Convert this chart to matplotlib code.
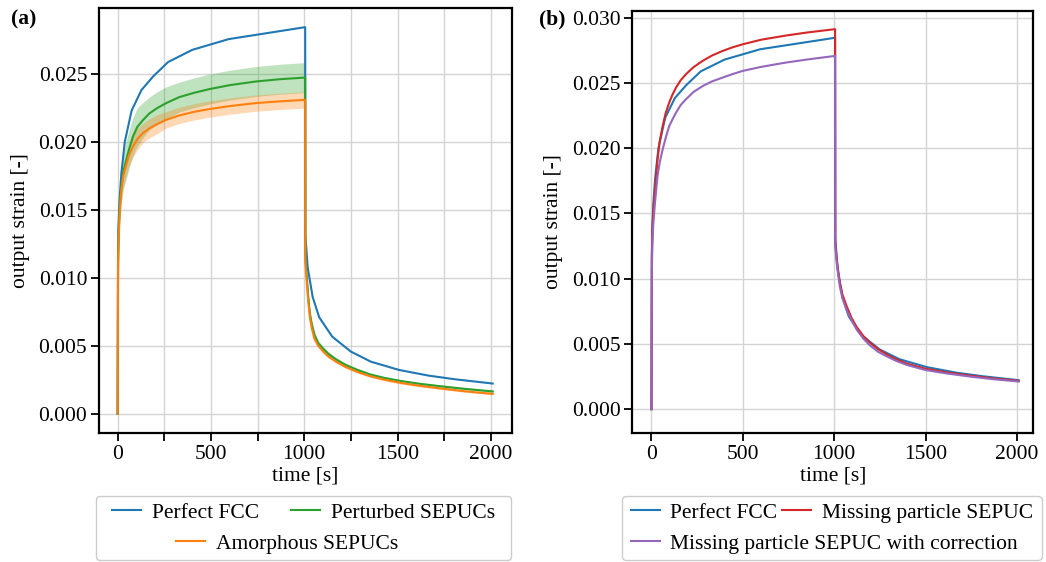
import numpy as np
import matplotlib
matplotlib.use('Agg')
import matplotlib.pyplot as plt
from matplotlib.ticker import MultipleLocator, FuncFormatter
from matplotlib.offsetbox import HPacker, VPacker, DrawingArea

plt.rcParams['font.family'] = ['Liberation Serif', 'DejaVu Serif']
FS = 15.5
plt.rcParams['font.size'] = FS

# ---------------- data ----------------
# Perfect FCC (shared by both panels)
t_fcc = [0, 2, 5, 10, 20, 38, 75, 128, 190, 270, 400, 595, 1005,
         1006, 1012, 1018, 1045, 1080, 1150, 1250, 1357, 1508, 1668, 1810, 2010]
strain_fcc = [0, 0.0118, 0.0140, 0.0157, 0.0177, 0.0200, 0.02232, 0.02383, 0.02482,
              0.02588, 0.02678, 0.02757, 0.02845,
              0.0131, 0.0120, 0.0108, 0.0086, 0.0071, 0.00567, 0.00457, 0.00383,
              0.00322, 0.0028, 0.00253, 0.00222]

# panel (a): SEPUC ensembles (mean and spread)
t_a = [0, 2, 5, 10, 15, 20, 30, 46, 60, 82, 105, 135, 170, 210, 260, 330, 410, 491,
       600, 740, 870, 1005,
       1006, 1010, 1015, 1022, 1030, 1040, 1055, 1075, 1100, 1130, 1170, 1220, 1280,
       1350, 1430, 1520, 1620, 1730, 1860, 2010]
strain_perturbed = [0, 0.0110, 0.0135, 0.0149, 0.0160, 0.0167, 0.0178, 0.01868, 0.0194,
                    0.0204, 0.0211, 0.0216, 0.0221, 0.02248, 0.02286, 0.02330, 0.02362,
                    0.02389, 0.02418, 0.02445, 0.02462, 0.02474,
                    0.0115, 0.0107, 0.0098, 0.0085, 0.0074, 0.0066, 0.0058, 0.0052,
                    0.0048, 0.0044, 0.0040, 0.0036, 0.00325, 0.0029, 0.00263, 0.00240,
                    0.00220, 0.00202, 0.00183, 0.00164]
spread_perturbed = [0, 0.0006, 0.0009, 0.0011, 0.0012, 0.0012, 0.0013, 0.0014, 0.0014,
                    0.0014, 0.0014, 0.0013, 0.0012, 0.0012, 0.0012, 0.0011, 0.0011,
                    0.0011, 0.0011, 0.0011, 0.0011, 0.0011,
                    0.0004, 0.00035, 0.0003, 0.00028, 0.00025, 0.00022, 0.0002, 0.00018,
                    0.00016, 0.00015, 0.00014, 0.00013, 0.00012, 0.00011, 0.0001, 0.0001,
                    0.00009, 0.00009, 0.00008, 0.00008]
strain_amorphous = [0, 0.0105, 0.0128, 0.0145, 0.0157, 0.01647, 0.0175, 0.01831, 0.0190,
                    0.01966, 0.0202, 0.02065, 0.0210, 0.0213, 0.02163, 0.02195, 0.02222,
                    0.02242, 0.02264, 0.02286, 0.02299, 0.0231,
                    0.0112, 0.0103, 0.0094, 0.0082, 0.0071, 0.0063, 0.0055, 0.0050,
                    0.0046, 0.0042, 0.00383, 0.00345, 0.0031, 0.00277, 0.00250, 0.00226,
                    0.00205, 0.00186, 0.00165, 0.00146]
spread_amorphous = [0, 0.0004, 0.0006, 0.0007, 0.0008, 0.0008, 0.0008, 0.0008, 0.0008,
                    0.0008, 0.0008, 0.0007, 0.0007, 0.0007, 0.0006, 0.0006, 0.0006,
                    0.0006, 0.0006, 0.0006, 0.0006, 0.0006,
                    0.0002, 0.0002, 0.00018, 0.00016, 0.00015, 0.00014, 0.00013, 0.00012,
                    0.00011, 0.0001, 0.0001, 0.00009, 0.00009, 0.00008, 0.00008, 0.00008,
                    0.00007, 0.00007, 0.00007, 0.00007]

# panel (b): missing particle SEPUC
t_b = [0, 2, 5, 10, 19, 33, 45, 61, 78, 97, 115, 134, 160, 188, 230, 280, 330, 389,
       440, 499, 600, 736, 850, 1005,
       1006, 1010, 1015, 1022, 1031, 1045, 1068, 1095, 1123, 1160, 1195, 1240, 1287,
       1340, 1396, 1500, 1620, 1743, 1870, 2010]
strain_missing = [0, 0.0115, 0.0138, 0.0152, 0.0168, 0.0191, 0.0205, 0.02168, 0.0227,
                  0.02348, 0.0241, 0.02463, 0.0252, 0.02565, 0.0262, 0.02668, 0.02708,
                  0.02744, 0.0277, 0.02795, 0.0283, 0.02862, 0.02885, 0.02911,
                  0.0128, 0.0121, 0.0114, 0.0106, 0.0097, 0.0088, 0.0079, 0.0070,
                  0.0063, 0.0056, 0.0051, 0.0046, 0.0042, 0.00382, 0.0035, 0.0031,
                  0.00281, 0.00257, 0.00236, 0.00217]
strain_missing_corr = [0, 0.0105, 0.0128, 0.0142, 0.0158, 0.01784, 0.0189, 0.01989, 0.0208,
                       0.02168, 0.0222, 0.02271, 0.0233, 0.02373, 0.0243, 0.02475, 0.0251,
                       0.0254, 0.02565, 0.02591, 0.02622, 0.02655, 0.02678, 0.02706,
                       0.0125, 0.0118, 0.0111, 0.0103, 0.0094, 0.0085, 0.0076, 0.0068,
                       0.0061, 0.0054, 0.0049, 0.0044, 0.00405, 0.0037, 0.0034, 0.0030,
                       0.00273, 0.0025, 0.0023, 0.00212]

labels_a = ['Perfect FCC', 'Perturbed SEPUCs', 'Amorphous SEPUCs']
labels_b = ['Perfect FCC', 'Missing particle SEPUC', 'Missing particle SEPUC with correction']

C_BLUE, C_ORANGE, C_GREEN, C_RED, C_PURPLE = '#1f77b4', '#ff7f0e', '#2ca02c', '#d62728', '#9467bd'

# ---------------- figure ----------------
W, H = 1046, 562
fig = plt.figure(figsize=(W / 100, H / 100), dpi=100)


def px_axes(l, t, r, b):
    return fig.add_axes([l / W, 1 - b / H, (r - l) / W, (b - t) / H])


axA = px_axes(99, 8, 512.3, 433)
axB = px_axes(632.3, 11, 1033.3, 432.7)


def style(ax):
    ax.grid(True, color='#d4d4d4', lw=1.0)
    ax.set_axisbelow(True)
    for s in ax.spines.values():
        s.set_linewidth(1.6)
        s.set_color('black')
    ax.tick_params(direction='out', length=6, width=1.3, pad=2.5, labelsize=FS)
    ax.yaxis.set_major_locator(MultipleLocator(0.005))
    ax.yaxis.set_major_formatter(FuncFormatter(lambda v, p: f'{v:.3f}'))
    ax.set_xlabel('time [s]', fontsize=FS, labelpad=2)
    ax.set_ylabel('output strain [-]', fontsize=FS, labelpad=6)


# panel (a)
ta = np.array(t_a)
pa = np.array(strain_perturbed); sp = np.array(spread_perturbed)
am = np.array(strain_amorphous); sa = np.array(spread_amorphous)
lA1, = axA.plot(t_fcc, strain_fcc, color=C_BLUE, lw=1.5)
axA.fill_between(ta, pa - sp, pa + sp, color=C_GREEN, alpha=0.3, lw=0)
lA2, = axA.plot(ta, pa, color=C_GREEN, lw=1.5)
axA.fill_between(ta, am - sa, am + sa, color=C_ORANGE, alpha=0.3, lw=0)
lA3, = axA.plot(ta, am, color=C_ORANGE, lw=1.5)
style(axA)
axA.set_xlim(-100, 2115)
axA.set_ylim(-0.00142, 0.02986)
axA.xaxis.set_major_locator(MultipleLocator(250))
axA.xaxis.set_major_formatter(FuncFormatter(lambda v, p: f'{v:.0f}' if abs(v % 500) < 1e-6 else ''))

# panel (b)
lB1, = axB.plot(t_fcc, strain_fcc, color=C_BLUE, lw=1.5)
lB2, = axB.plot(t_b, strain_missing, color=C_RED, lw=1.5)
lB3, = axB.plot(t_b, strain_missing_corr, color=C_PURPLE, lw=1.5)
style(axB)
axB.set_xlim(-105, 2090)
axB.set_ylim(-0.0018, 0.0305)
axB.xaxis.set_major_locator(MultipleLocator(500))
axB.xaxis.set_major_formatter(FuncFormatter(lambda v, p: f'{v:.0f}'))

fig.text(11 / W, 1 - 19 / H, '(a)', fontsize=FS, fontweight='bold', va='center', ha='left')
fig.text(539 / W, 1 - 19 / H, '(b)', fontsize=FS, fontweight='bold', va='center', ha='left')


def row_legend(ax, handles, labels, rows, seps, align, cx, top, side, pads=None):
    leg = ax.legend(handles, labels, ncol=1, loc='upper center',
                    bbox_to_anchor=(cx / W, 1 - top / H), bbox_transform=fig.transFigure,
                    borderaxespad=0, handlelength=1.35, handletextpad=0.5,
                    borderpad=0.31, labelspacing=0.51, fontsize=FS, frameon=True,
                    edgecolor='#cccccc', framealpha=1.0)
    items = leg._legend_handle_box.get_children()[0].get_children()
    rboxes = []
    for i, (r, sep) in enumerate(zip(rows, seps)):
        ch = [items[k] for k in r]
        if pads and pads[i]:
            ch = ch + [DrawingArea(pads[i], 1)]
        rboxes.append(HPacker(pad=0, sep=sep, align='baseline', children=ch))
    inner = VPacker(pad=0, sep=leg.labelspacing * FS, align=align, children=rboxes)
    newbox = HPacker(pad=0, sep=0, align='center',
                     children=[DrawingArea(side, 1), inner, DrawingArea(side, 1)])
    leg._legend_handle_box = newbox
    leg._legend_box._children = [leg._legend_title_box, newbox]
    leg._legend_box.set_figure(fig)
    return leg


row_legend(axA, [lA1, lA2, lA3], labels_a, [[0, 1], [2]], [23.5, 0], 'center',
           303.5, 496, 6.5, pads=[0, 24])
row_legend(axB, [lB1, lB2, lB3], labels_b, [[0, 1], [2]], [3, 0], 'left',
           831.7, 496, 1.7)

fig.savefig('out.png', dpi=100)
